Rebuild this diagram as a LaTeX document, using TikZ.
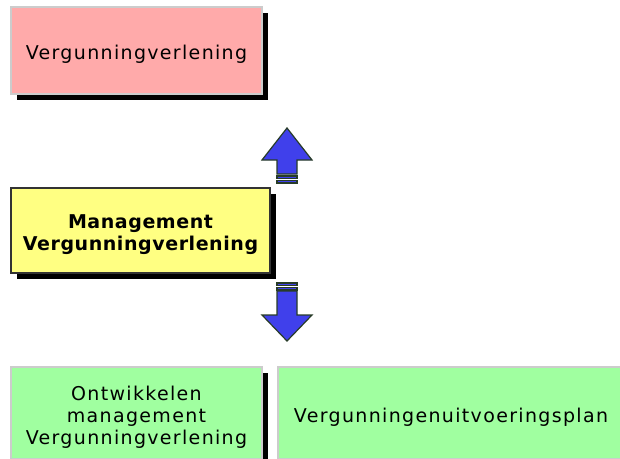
\documentclass[tikz,border=0pt]{standalone}
\usepackage{fontspec}
\setmainfont{DejaVu Sans}[LetterSpace=7]
\usepackage{tikz}
\usetikzlibrary{calc,shadows}
\definecolor{pinkfill}{RGB}{255,170,170}
\definecolor{yellowfill}{RGB}{255,255,130}
\definecolor{greenfill}{RGB}{160,255,160}
\definecolor{arrowblue}{RGB}{64,64,235}
\definecolor{arrowline}{RGB}{40,60,40}
\tikzstyle{box} = [draw=black!20, line width=1.2pt, rectangle, align=center, inner sep=0pt, text height=22pt, font=\fontsize{19}{22}\selectfont, drop shadow={shadow xshift=5.5pt, shadow yshift=-5.5pt, fill=black, opacity=1}]
\tikzstyle{blockarrow} = [fill=arrowblue, draw=arrowline, line width=1.2pt, line join=miter]

\begin{document}
\begin{tikzpicture}[x=1pt, y=-1pt]
    \useasboundingbox[fill=white] (0,0) rectangle (620,458);
    \node[box, fill=pinkfill, minimum width=251pt, minimum height=87pt] (vv) at (136.5,50.5) {Vergunningverlening};
    \node[box, fill=yellowfill, draw=black!80, minimum width=259pt, minimum height=85pt, text height=44pt, font=\fontsize{19}{22}\selectfont\bfseries\addfontfeature{LetterSpace=3}] (mvv) at (140.5,230.5) {Management\\Vergunningverlening};
    \node[box, fill=greenfill, minimum width=251pt, minimum height=92pt, text height=66pt] (omv) at (136.5,413) {Ontwikkelen\\management\\Vergunningverlening};
    \node[box, fill=greenfill, minimum width=346pt, minimum height=92pt] (vup) at (451,413) {Vergunningenuitvoeringsplan};
    % pijlen
    \coordinate (up) at (287,128);
    \coordinate (down) at (287,341);
    \draw[blockarrow] (up) -- ++(25,32) -- ++(-15,0) -- ++(0,14) -- ++(-20,0) -- ++(0,-14) -- ++(-15,0) -- cycle;
    \draw[blockarrow] ($(up)+(-10,48)$) rectangle ++(20,2.5);
    \draw[blockarrow] ($(up)+(-10,52.5)$) rectangle ++(20,2.5);
    \draw[blockarrow] (down) -- ++(25,-26) -- ++(-15,0) -- ++(0,-24) -- ++(-20,0) -- ++(0,24) -- ++(-15,0) -- cycle;
    \draw[blockarrow] ($(down)+(-10,-58)$) rectangle ++(20,2.5);
    \draw[blockarrow] ($(down)+(-10,-53.5)$) rectangle ++(20,2.5);
\end{tikzpicture}
\end{document}
